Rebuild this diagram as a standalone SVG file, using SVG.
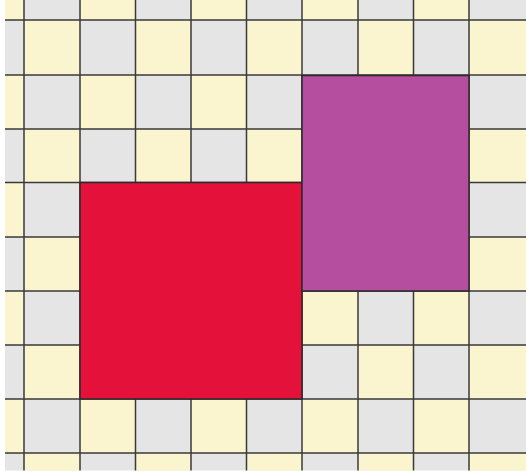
<svg xmlns="http://www.w3.org/2000/svg" width="526" height="472" viewBox="0 0 526 472">
<style>
.y{fill:#faf5cf}
.g{stroke:#3a3a3a;stroke-width:1.5;fill:none}
.sq{stroke:#2a2a2a;stroke-width:1.5}
</style>
<rect x="0" y="0" width="526" height="472" fill="#ffffff"/>
<rect x="5" y="0" width="521" height="470.5" fill="#e5e5e5"/>
<g id="yellow-cells" class="y">
<path d="M5 0H24V20H5Z M80 0H135.5V20H80Z M191 0H246.5V20H191Z M302 0H358V20H302Z M413.5 0H469V20H413.5Z"/>
<path d="M24 20H80V75H24Z M135.5 20H191V75H135.5Z M246.5 20H302V75H246.5Z M358 20H413.5V75H358Z M469 20H526V75H469Z"/>
<path d="M5 75H24V129H5Z M80 75H135.5V129H80Z M191 75H246.5V129H191Z M302 75H358V129H302Z M413.5 75H469V129H413.5Z"/>
<path d="M24 129H80V182.5H24Z M135.5 129H191V182.5H135.5Z M246.5 129H302V182.5H246.5Z M358 129H413.5V182.5H358Z M469 129H526V182.5H469Z"/>
<path d="M5 182.5H24V237H5Z M80 182.5H135.5V237H80Z M191 182.5H246.5V237H191Z M302 182.5H358V237H302Z M413.5 182.5H469V237H413.5Z"/>
<path d="M24 237H80V291H24Z M135.5 237H191V291H135.5Z M246.5 237H302V291H246.5Z M358 237H413.5V291H358Z M469 237H526V291H469Z"/>
<path d="M5 291H24V345H5Z M80 291H135.5V345H80Z M191 291H246.5V345H191Z M302 291H358V345H302Z M413.5 291H469V345H413.5Z"/>
<path d="M24 345H80V399H24Z M135.5 345H191V399H135.5Z M246.5 345H302V399H246.5Z M358 345H413.5V399H358Z M469 345H526V399H469Z"/>
<path d="M5 399H24V453H5Z M80 399H135.5V453H80Z M191 399H246.5V453H191Z M302 399H358V453H302Z M413.5 399H469V453H413.5Z"/>
<path d="M24 453H80V470.5H24Z M135.5 453H191V470.5H135.5Z M246.5 453H302V470.5H246.5Z M358 453H413.5V470.5H358Z M469 453H526V470.5H469Z"/>
</g>
<g id="grid-lines" class="g">
<path d="M24 0V470.5 M80 0V470.5 M135.5 0V470.5 M191 0V470.5 M246.5 0V470.5 M302 0V470.5 M358 0V470.5 M413.5 0V470.5 M469 0V470.5"/>
<path d="M5 20H526 M5 75H526 M5 129H526 M5 182.5H526 M5 237H526 M5 291H526 M5 345H526 M5 399H526 M5 453H526"/>
</g>
<g id="red-square">
<rect class="sq" x="80" y="182.5" width="222" height="216.5" fill="#e4113b"/>
</g>
<g id="magenta-square">
<rect class="sq" x="302" y="75.5" width="167" height="215.5" fill="#b54e9e"/>
</g>
</svg>
